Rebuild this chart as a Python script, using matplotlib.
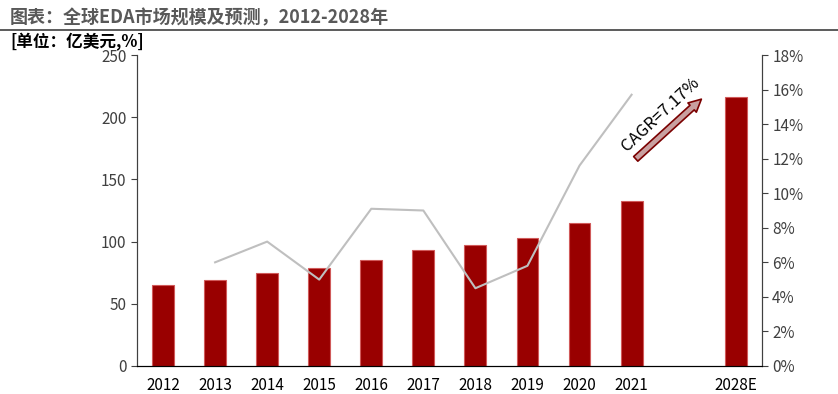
import matplotlib as mpl
mpl.use('Agg')
import matplotlib.pyplot as plt
from matplotlib.lines import Line2D
import numpy as np

plt.rcParams['font.family'] = ['Liberation Sans Narrow', 'Noto Sans CJK SC', 'DejaVu Sans']

# data
years = ['2012', '2013', '2014', '2015', '2016', '2017', '2018', '2019', '2020', '2021', '', '2028E']
market = [65, 69, 75, 79, 85, 93, 97, 103, 115, 133, None, 216]
growth = [None, 6.0, 7.2, 5.0, 9.1, 9.0, 4.5, 5.8, 11.6, 15.7, None, None]

fig = plt.figure(figsize=(8.38, 3.94), dpi=100)
ax = fig.add_axes([0.1635, 0.0711, 0.7455, 0.7893])
ax2 = ax.twinx()

x = np.arange(len(years))
bx = [i for i, v in zip(x, market) if v is not None]
bv = [v for v in market if v is not None]
ax.bar(bx, bv, width=0.42, color='#990000', edgecolor='#d05a5a', linewidth=0.8, zorder=2)

lx = [i for i, v in zip(x, growth) if v is not None]
lv = [v for v in growth if v is not None]
ax2.plot(lx, lv, color='#bfbfbf', linewidth=1.5, zorder=3)

ax.set_xlim(-0.5, len(years) - 0.5)
ax.set_ylim(0, 250)
ax.set_yticks(range(0, 251, 50))
ax2.set_ylim(0, 18)
ax2.set_yticks(range(0, 19, 2))
ax2.set_yticklabels([f'{t}%' for t in range(0, 19, 2)])
ax.set_xticks(x)
ax.set_xticklabels(years)
ax.tick_params(axis='x', length=0, pad=8, labelsize=11, colors='#000000')
ax.tick_params(axis='y', direction='out', length=4, labelsize=11, colors='#404040', labelcolor='#404040')
ax2.tick_params(axis='y', direction='out', length=4, labelsize=11, colors='#404040', labelcolor='#404040')

for a in (ax, ax2):
    a.spines['top'].set_visible(False)
    a.spines['left'].set_color('#404040')
    a.spines['right'].set_color('#404040')
    a.spines['bottom'].set_color('#000000')

# CAGR arrow
ax.annotate('', xy=(10.38, 216), xytext=(9.04, 165),
            arrowprops=dict(arrowstyle='simple,head_length=0.9,head_width=0.9,tail_width=0.45',
                            facecolor='#c9a0a0', edgecolor='#7a0000', linewidth=1.2),
            zorder=5)
ax.text(9.55, 202, 'CAGR=7.17%', rotation=43, ha='center', va='center', fontsize=12, color='#000000')

# title
fig.text(0.012, 0.955, '图表：全球EDA市场规模及预测，2012-2028年', fontsize=13, fontweight='bold',
         color='#595959', ha='left', va='center', family=['Noto Sans CJK SC', 'DejaVu Sans'])
fig.add_artist(Line2D([0.0, 1.0], [0.925, 0.925], color='#404040', linewidth=1.2, transform=fig.transFigure))
fig.text(0.012, 0.893, '[单位：亿美元,%]', fontsize=12, fontweight='bold', color='#000000',
         ha='left', va='center', family=['Noto Sans CJK SC', 'DejaVu Sans'])

fig.savefig('out.png', dpi=100)
